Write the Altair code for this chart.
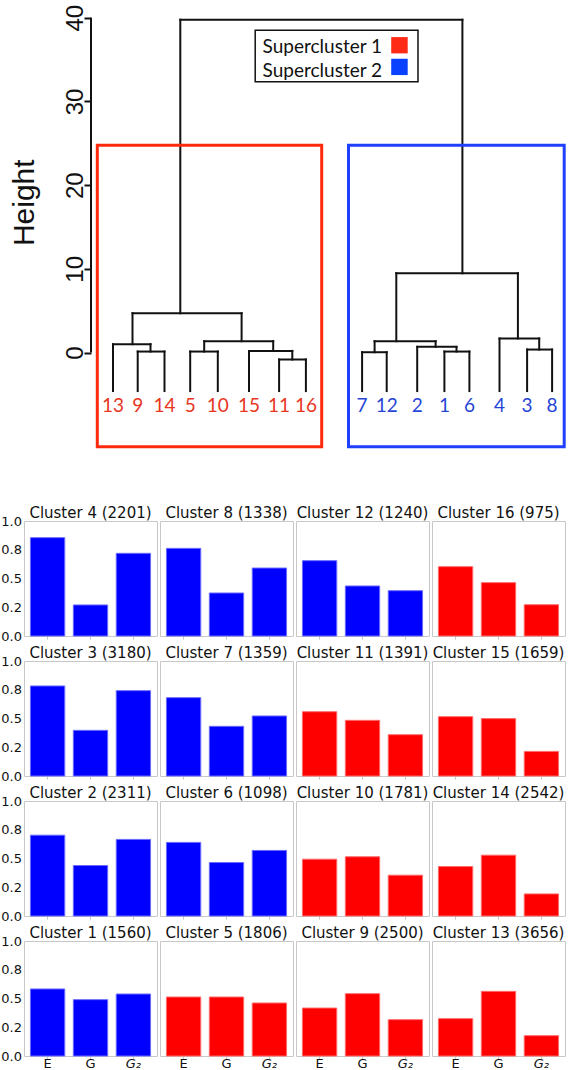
import altair as alt
import pandas as pd

# ---------------- dendrogram data ----------------
leaf_labels = ["13", "9", "14", "5", "10", "15", "11", "16", "7", "12", "2", "1", "6", "4", "3", "8"]
leaf_pos = [22.0, 46.7, 73.5, 99.2, 126.8, 158.0, 188.1, 214.9,
            271.1, 295.7, 326.2, 353.4, 378.4, 408.5, 436.1, 461.1]
leaf_super = ["Supercluster 1"] * 8 + ["Supercluster 2"] * 8
leaf_bottom = -4.6
leaf_label_height = -6.36

merge_names = ["n1", "n2", "n3", "n4", "n5", "n6", "n7", "n8", "n9", "n10", "n11", "n12", "n13", "n14", "root"]
merge_left = ["9", "13", "5", "11", "15", "n3", "n2", "7", "1", "2", "n8", "3", "4", "n11", "n7"]
merge_right = ["14", "n1", "10", "16", "n4", "n5", "n6", "12", "6", "n9", "n10", "8", "n12", "n13", "n14"]
merge_height = [0.12, 1.0, 0.12, -0.83, 0.2, 1.36, 4.7, 0.04, 0.12, 0.68, 1.36, 0.36, 1.68, 9.48, 39.75]
merge_pos = [59.5, 41.5, 113.2, 201.3, 182.2, 150.6, 89.3, 283.6, 365.5, 344.6, 305.3, 448.2, 426.9, 371.4, 230.4]

height_ticks = [0, 10, 20, 30, 40]
height_title = "Height"
height_title_pos = [-57.0, 17.9]   # (x, height) of the rotated axis title

sc_names = ["Supercluster 1", "Supercluster 2"]
box_left = [6.3, 257.5]
box_right = [230.7, 473.2]
box_bottom = [-11.24, -11.24]
box_top = [24.76, 24.76]

legend_box = [164.2, 327.0, 32.36, 38.5]
legend_text_x = 171.6
legend_text_y = [35.82, 32.92]
legend_swatch_x = [300.2, 316.7]
legend_swatch_lo = [35.74, 33.15]
legend_swatch_hi = [37.69, 35.10]

box_colors = {"Supercluster 1": "#ff2a0d", "Supercluster 2": "#1f40ff"}
label_colors = {"Supercluster 1": "#e8361e", "Supercluster 2": "#2645d6"}
swatch_colors = {"Supercluster 1": "#ff2b17", "Supercluster 2": "#0a40ff"}
bar_colors = {"Supercluster 1": "#ff0000", "Supercluster 2": "#0000ff"}
bar_edges = {"Supercluster 1": "#ff6a6a", "Supercluster 2": "#6a6aff"}

# ---------------- bar panel data ----------------
categories = ["E", "G", "G₂"]
y_tick_values = [0, 0.25, 0.5, 0.75, 1.0]
y_tick_labels = ["0.0", "0.2", "0.5", "0.8", "1.0"]
grid_rows = [[4, 8, 12, 16], [3, 7, 11, 15], [2, 6, 10, 14], [1, 5, 9, 13]]
cluster_size = {1: 1560, 2: 2311, 3: 3180, 4: 2201, 5: 1806, 6: 1098, 7: 1359, 8: 1338,
                9: 2500, 10: 1781, 11: 1391, 12: 1240, 13: 3656, 14: 2542, 15: 1659, 16: 975}
val_E = {4: 0.855, 8: 0.762, 12: 0.655, 16: 0.603, 3: 0.783, 7: 0.681, 11: 0.559, 15: 0.516,
         2: 0.703, 6: 0.640, 10: 0.494, 14: 0.430, 1: 0.583, 5: 0.513, 9: 0.417, 13: 0.325}
val_G = {4: 0.270, 8: 0.374, 12: 0.435, 16: 0.464, 3: 0.397, 7: 0.432, 11: 0.484, 15: 0.499,
         2: 0.439, 6: 0.465, 10: 0.515, 14: 0.529, 1: 0.490, 5: 0.513, 9: 0.542, 13: 0.562}
val_G2 = {4: 0.719, 8: 0.591, 12: 0.394, 16: 0.272, 3: 0.742, 7: 0.522, 11: 0.359, 15: 0.214,
          2: 0.666, 6: 0.570, 10: 0.355, 14: 0.192, 1: 0.539, 5: 0.461, 9: 0.316, 13: 0.177}

# ---------------- build dendrogram segments ----------------
pos = dict(zip(leaf_labels, leaf_pos))
hgt = {lab: leaf_bottom for lab in leaf_labels}
for n, p, h in zip(merge_names, merge_pos, merge_height):
    pos[n] = p
    hgt[n] = h

segs = []
for n, l, r, h in zip(merge_names, merge_left, merge_right, merge_height):
    segs.append({"x": pos[l], "x2": pos[r], "y": h, "y2": h})
    segs.append({"x": pos[l], "x2": pos[l], "y": hgt[l], "y2": h})
    segs.append({"x": pos[r], "x2": pos[r], "y": hgt[r], "y2": h})
seg_df = pd.DataFrame(segs)

# dendrogram plot area starts at the bar panels' left edge; the height axis sits inside it
AXIS_INSET = 67
xs = alt.Scale(domain=[-AXIS_INSET, 480], nice=False, zero=False)
ys = alt.Scale(domain=[-12, 42], nice=False, zero=False)

y_axis = alt.Axis(values=height_ticks, domain=False, grid=False, offset=-AXIS_INSET,
                  tickSize=7, tickWidth=2, tickColor="#111111", labelAngle=270,
                  labelAlign="center", labelBaseline="alphabetic", labelPadding=2,
                  labelFont="Liberation Sans", labelFontSize=24, labelColor="#111111",
                  title=None)


def X(field):
    return alt.X(field, scale=xs, axis=None)


def Y(field):
    return alt.Y(field, scale=ys, axis=y_axis)


segments = alt.Chart(seg_df).mark_rule(color="#111111", strokeWidth=2, strokeCap="square").encode(
    x=X("x:Q"), x2="x2:Q", y=Y("y:Q"), y2="y2:Q",
)

axis_line = alt.Chart(pd.DataFrame({"x": [0], "y": [height_ticks[0]], "y2": [height_ticks[-1]]})).mark_rule(
    color="#111111", strokeWidth=2).encode(
    x=X("x:Q"), y=Y("y:Q"), y2="y2:Q",
)

title_df = pd.DataFrame({"t": [height_title], "x": [height_title_pos[0]], "y": [height_title_pos[1]]})
axis_title = alt.Chart(title_df).mark_text(font="Liberation Sans", fontSize=30, angle=270,
                                           align="center", baseline="alphabetic",
                                           color="#111111").encode(
    x=X("x:Q"), y=Y("y:Q"), text="t:N",
)

box_df = pd.DataFrame({"sc": sc_names, "x": box_left, "x2": box_right, "y": box_bottom, "y2": box_top})
box_df["col"] = box_df["sc"].map(box_colors)
boxes = alt.Chart(box_df).mark_rect(filled=False, strokeWidth=3).encode(
    x=X("x:Q"), x2="x2:Q", y=Y("y:Q"), y2="y2:Q",
    stroke=alt.Stroke("col:N", scale=None),
)

leaf_df = pd.DataFrame({"label": leaf_labels, "x": leaf_pos, "sc": leaf_super,
                        "y": [leaf_label_height] * len(leaf_labels)})
leaf_df["col"] = leaf_df["sc"].map(label_colors)
leaf_text = alt.Chart(leaf_df).mark_text(font="Lato", fontSize=19, baseline="middle", align="center").encode(
    x=X("x:Q"), y=Y("y:Q"), text="label:N",
    color=alt.Color("col:N", scale=None),
)

lbox_df = pd.DataFrame({"x": [legend_box[0]], "x2": [legend_box[1]], "y": [legend_box[2]], "y2": [legend_box[3]]})
legend_frame = alt.Chart(lbox_df).mark_rect(fill="white", stroke="#111111", strokeWidth=1.5).encode(
    x=X("x:Q"), x2="x2:Q", y=Y("y:Q"), y2="y2:Q",
)

ltext_df = pd.DataFrame({"label": sc_names, "x": [legend_text_x] * 2, "y": legend_text_y})
legend_text = alt.Chart(ltext_df).mark_text(font="Lato", fontSize=19, align="left",
                                            baseline="alphabetic", color="#111111").encode(
    x=X("x:Q"), y=Y("y:Q"), text="label:N",
)

sw_df = pd.DataFrame({"sc": sc_names, "x": [legend_swatch_x[0]] * 2, "x2": [legend_swatch_x[1]] * 2,
                      "y": legend_swatch_lo, "y2": legend_swatch_hi})
sw_df["col"] = sw_df["sc"].map(swatch_colors)
legend_sw = alt.Chart(sw_df).mark_rect().encode(
    x=X("x:Q"), x2="x2:Q", y=Y("y:Q"), y2="y2:Q",
    fill=alt.Fill("col:N", scale=None),
)

dendro = alt.layer(segments, boxes, axis_line, axis_title, leaf_text, legend_frame,
                   legend_text, legend_sw).properties(
    width=480 + AXIS_INSET, height=452,
    view=alt.ViewBackground(stroke="transparent")
)

# ---------------- bar panels ----------------
cluster_super = dict(zip([int(v) for v in leaf_labels], leaf_super))
label_expr = "[" + ",".join("'" + t + "'" for t in y_tick_labels) + "][round(datum.value*4)]"

panels = []
for ri, row in enumerate(grid_rows):
    for ci, cid in enumerate(row):
        sc = cluster_super[cid]
        df = pd.DataFrame({"var": categories,
                           "value": [val_E[cid], val_G[cid], val_G2[cid]],
                           "fillc": [bar_colors[sc]] * 3,
                           "edgec": [bar_edges[sc]] * 3})
        if ci == 0:
            yax = alt.Axis(values=y_tick_values, labelExpr=label_expr, ticks=False, domain=False,
                           grid=False, labelFont="DejaVu Sans", labelFontSize=13, labelPadding=2.5,
                           labelColor="#111111", title=None)
            toff = -6
        else:
            yax = None
            toff = 0
        last = ri == len(grid_rows) - 1
        xax = alt.Axis(labels=last, ticks=True, tickSize=3, tickColor="#c4c4c4", domain=False,
                       grid=False, title=None, labelAngle=0, labelFont="DejaVu Sans",
                       labelFontSize=13, labelPadding=-2, labelColor="#111111",
                       labelFontStyle={"condition": {"test": "datum.value == 'G₂'", "value": "italic"},
                                       "value": "normal"})
        ch = alt.Chart(df).mark_bar(strokeWidth=1).encode(
            x=alt.X("var:N", sort=categories,
                    scale=alt.Scale(domain=categories, paddingInner=0.2, paddingOuter=0.15), axis=xax),
            y=alt.Y("value:Q", scale=alt.Scale(domain=[0, 1], nice=False), axis=yax),
            fill=alt.Fill("fillc:N", scale=None),
            stroke=alt.Stroke("edgec:N", scale=None),
        ).properties(
            width=133, height=115,
            title=alt.TitleParams(f"Cluster {cid} ({cluster_size[cid]})", font="DejaVu Sans",
                                  fontSize=15, fontWeight="normal", color="#111111", offset=toff,
                                  frame="group"),
            view=alt.ViewBackground(stroke="#c8c8c8", strokeWidth=1),
        )
        panels.append(ch)

grid = alt.concat(*panels, columns=4, align="each", spacing={"row": 1, "column": 1})

chart = alt.vconcat(dendro, grid, spacing=51).properties(padding=0, background="white")

chart.save("out.html", embed_options={"renderer": "svg", "actions": False})
